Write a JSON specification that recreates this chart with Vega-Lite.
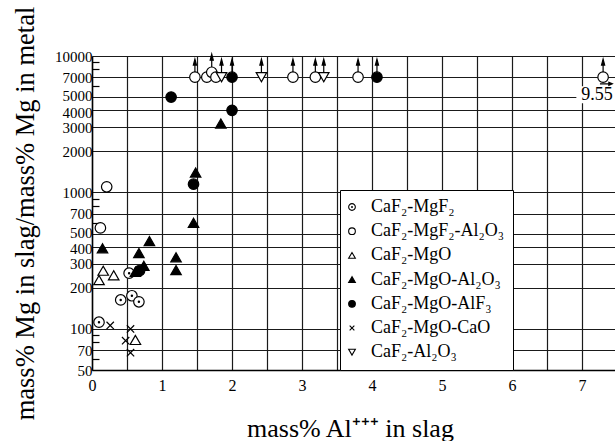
{
  "$schema": "https://vega.github.io/schema/vega-lite/v6.json",
  "width": 523,
  "height": 314,
  "autosize": {"type": "none"},
  "padding": {"left": 92, "top": 56, "right": 0, "bottom": 71},
  "background": "white",
  "config": {
    "view": {"stroke": null},
    "font": "Liberation Serif",
    "axis": {
      "labelFont": "Liberation Serif",
      "titleFont": "Liberation Serif",
      "labelColor": "black",
      "titleColor": "black",
      "titleFontWeight": "normal",
      "labelFontSize": 16,
      "gridColor": "#1a1a1a",
      "gridWidth": 1.2,
      "gridOpacity": 1,
      "domainColor": "black",
      "domainWidth": 1.5,
      "labelOverlap": false,
      "labelFlush": false
    },
    "legend": {
      "title": null,
      "orient": "none",
      "legendX": 248,
      "legendY": 134,
      "fillColor": "white",
      "strokeColor": "black",
      "padding": 8,
      "symbolOffset": -5,
      "symbolSize": 45,
      "symbolStrokeColor": "black",
      "symbolStrokeWidth": 1.1,
      "labelFontSize": 18,
      "labelFont": "Liberation Serif",
      "labelColor": "black",
      "labelOffset": 10,
      "labelLimit": 300,
      "rowPadding": 6.2
    }
  },
  "data": {
    "values": [
      {"system": "CaF₂-MgF₂", "al": 0.1, "ratio": 112},
      {"system": "CaF₂-MgF₂", "al": 0.41, "ratio": 163},
      {"system": "CaF₂-MgF₂", "al": 0.57, "ratio": 175},
      {"system": "CaF₂-MgF₂", "al": 0.67, "ratio": 158},
      {"system": "CaF₂-MgF₂", "al": 0.53, "ratio": 256},
      {"system": "CaF₂-MgF₂-Al₂O₃", "al": 0.21, "ratio": 1100},
      {"system": "CaF₂-MgF₂-Al₂O₃", "al": 0.12, "ratio": 550},
      {"system": "CaF₂-MgF₂-Al₂O₃", "al": 1.47, "ratio": 7000, "lower_bound": true},
      {"system": "CaF₂-MgF₂-Al₂O₃", "al": 1.64, "ratio": 7000},
      {"system": "CaF₂-MgF₂-Al₂O₃", "al": 1.71, "ratio": 7600, "lower_bound": true},
      {"system": "CaF₂-MgF₂-Al₂O₃", "al": 1.77, "ratio": 7000},
      {"system": "CaF₂-MgF₂-Al₂O₃", "al": 2.87, "ratio": 7000, "lower_bound": true},
      {"system": "CaF₂-MgF₂-Al₂O₃", "al": 3.19, "ratio": 7000, "lower_bound": true},
      {"system": "CaF₂-MgF₂-Al₂O₃", "al": 3.8, "ratio": 7000, "lower_bound": true},
      {"system": "CaF₂-MgF₂-Al₂O₃", "al": 7.3, "ratio": 7000, "lower_bound": true, "al_actual": 9.55},
      {"system": "CaF₂-MgO", "al": 0.16, "ratio": 267},
      {"system": "CaF₂-MgO", "al": 0.1, "ratio": 228},
      {"system": "CaF₂-MgO", "al": 0.31, "ratio": 247},
      {"system": "CaF₂-MgO", "al": 0.62, "ratio": 83},
      {"system": "CaF₂-MgO-Al₂O₃", "al": 1.84, "ratio": 3200},
      {"system": "CaF₂-MgO-Al₂O₃", "al": 1.48, "ratio": 1400},
      {"system": "CaF₂-MgO-Al₂O₃", "al": 1.45, "ratio": 600},
      {"system": "CaF₂-MgO-Al₂O₃", "al": 0.15, "ratio": 390},
      {"system": "CaF₂-MgO-Al₂O₃", "al": 0.67, "ratio": 360},
      {"system": "CaF₂-MgO-Al₂O₃", "al": 0.82, "ratio": 440},
      {"system": "CaF₂-MgO-Al₂O₃", "al": 1.2, "ratio": 335},
      {"system": "CaF₂-MgO-Al₂O₃", "al": 1.2, "ratio": 270},
      {"system": "CaF₂-MgO-Al₂O₃", "al": 0.74, "ratio": 290},
      {"system": "CaF₂-MgO-Al₂O₃", "al": 0.62, "ratio": 262},
      {"system": "CaF₂-MgO-AlF₃", "al": 2.0, "ratio": 7000, "lower_bound": true},
      {"system": "CaF₂-MgO-AlF₃", "al": 4.07, "ratio": 7000, "lower_bound": true},
      {"system": "CaF₂-MgO-AlF₃", "al": 1.13, "ratio": 5000},
      {"system": "CaF₂-MgO-AlF₃", "al": 2.0, "ratio": 4000},
      {"system": "CaF₂-MgO-AlF₃", "al": 1.45, "ratio": 1150},
      {"system": "CaF₂-MgO-AlF₃", "al": 0.68, "ratio": 268},
      {"system": "CaF₂-MgO-CaO", "al": 0.26, "ratio": 106},
      {"system": "CaF₂-MgO-CaO", "al": 0.55, "ratio": 100},
      {"system": "CaF₂-MgO-CaO", "al": 0.48, "ratio": 82},
      {"system": "CaF₂-MgO-CaO", "al": 0.55, "ratio": 67},
      {"system": "CaF₂-Al₂O₃", "al": 1.85, "ratio": 7000, "lower_bound": true},
      {"system": "CaF₂-Al₂O₃", "al": 2.42, "ratio": 7000, "lower_bound": true},
      {"system": "CaF₂-Al₂O₃", "al": 3.31, "ratio": 7000, "lower_bound": true}
    ]
  },
  "encoding": {
    "x": {
      "field": "al",
      "type": "quantitative",
      "scale": {"domain": [0, 7.47], "nice": false, "zero": false},
      "axis": {
        "values": [0, 0.5, 1, 1.5, 2, 2.5, 3, 3.5, 4, 4.5, 5, 5.5, 6, 6.5, 7],
        "labelExpr": "datum.value % 1 === 0 ? format(datum.value, 'd') : ''",
        "grid": true,
        "ticks": false,
        "labelPadding": 7,
        "title": "mass% Al⁺⁺⁺ in slag",
        "titleFontSize": 26,
        "titleX": 258,
        "titleY": 58,
        "titleAlign": "center",
        "titleBaseline": "middle"
      }
    },
    "y": {
      "field": "ratio",
      "type": "quantitative",
      "scale": {"type": "log", "domain": [50, 10000], "nice": false},
      "axis": {
        "values": [50, 60, 70, 80, 90, 100, 200, 300, 400, 500, 600, 700, 800, 900, 1000, 2000, 3000, 4000, 5000, 6000, 7000, 8000, 9000, 10000],
        "labelExpr": "indexof([60, 80, 90, 600, 800, 900, 6000, 8000, 9000], datum.value) >= 0 ? '' : format(datum.value, 'd')",
        "labelFontSize": 15,
        "labelOffset": {
          "condition": [
            {"test": "datum.value === 5000 || datum.value === 500", "value": -1.5},
            {"test": "datum.value === 4000 || datum.value === 400", "value": 2}
          ],
          "value": 0
        },
        "grid": true,
        "gridOpacity": {"condition": {"test": "indexof([60, 80, 90, 600, 800, 900, 6000, 8000, 9000], datum.value) >= 0", "value": 0}, "value": 1},
        "ticks": true,
        "tickSize": -7,
        "tickColor": "black",
        "tickWidth": 1.2,
        "tickOpacity": {"condition": {"test": "indexof([60, 80, 90, 600, 800, 900, 6000, 8000, 9000], datum.value) >= 0", "value": 1}, "value": 0},
        "labelPadding": 7,
        "title": "mass% Mg in slag/mass% Mg in metal",
        "titleFontSize": 26.5,
        "titleX": -67,
        "titleY": 157,
        "titleAngle": -90,
        "titleAlign": "center",
        "titleBaseline": "middle"
      }
    }
  },
  "layer": [
    {
      "mark": {"type": "point", "size": 110, "filled": true, "opacity": 1, "strokeWidth": 1.2},
      "encoding": {
        "shape": {
          "field": "system",
          "type": "nominal",
          "scale": {
            "domain": ["CaF₂-MgF₂", "CaF₂-MgF₂-Al₂O₃", "CaF₂-MgO", "CaF₂-MgO-Al₂O₃", "CaF₂-MgO-AlF₃", "CaF₂-MgO-CaO", "CaF₂-Al₂O₃"],
            "range": [
              "M-1,0A1,1,0,1,0,1,0A1,1,0,1,0,-1,0Z M-0.12,0A0.12,0.12,0,1,0,0.12,0A0.12,0.12,0,1,0,-0.12,0Z",
              "circle",
              "triangle-up",
              "triangle-up",
              "circle",
              "M-0.7,-0.7L0.7,0.7M-0.7,0.7L0.7,-0.7",
              "triangle-down"
            ]
          },
          "legend": {"title": null}
        },
        "fill": {
          "field": "system",
          "type": "nominal",
          "scale": {
            "domain": ["CaF₂-MgF₂", "CaF₂-MgF₂-Al₂O₃", "CaF₂-MgO", "CaF₂-MgO-Al₂O₃", "CaF₂-MgO-AlF₃", "CaF₂-MgO-CaO", "CaF₂-Al₂O₃"],
            "range": ["white", "white", "white", "black", "black", "white", "white"]
          },
          "legend": {"title": null}
        },
        "stroke": {
          "field": "system",
          "type": "nominal",
          "scale": {
            "domain": ["CaF₂-MgF₂", "CaF₂-MgF₂-Al₂O₃", "CaF₂-MgO", "CaF₂-MgO-Al₂O₃", "CaF₂-MgO-AlF₃", "CaF₂-MgO-CaO", "CaF₂-Al₂O₃"],
            "range": ["black", "black", "black", "black", "black", "black", "black"]
          },
          "legend": {"title": null}
        }
      }
    },
    {
      "transform": [{"filter": "datum.lower_bound === true"}],
      "mark": {"type": "point", "size": 110, "filled": true, "opacity": 1, "fill": "black", "stroke": "black", "strokeWidth": 1.2, "shape": "M0,-1L0,-2.4M-0.3,-2.3L0,-3.45L0.3,-2.3Z"}
    },
    {
      "transform": [{"filter": "isValid(datum.al_actual)"}],
      "mark": {"type": "point", "size": 110, "filled": true, "opacity": 1, "fill": "white", "strokeWidth": 0, "shape": "M-5.1,1.75L3,1.75L3,5L-5.1,5Z"}
    },
    {
      "transform": [{"filter": "isValid(datum.al_actual)"}],
      "mark": {"type": "point", "size": 110, "filled": true, "opacity": 1, "fill": "black", "stroke": "black", "strokeWidth": 1.2, "shape": "M-0.6,1.28L1.2,1.28M1.1,1.0L1.75,1.28L1.1,1.56Z"}
    },
    {
      "transform": [{"filter": "isValid(datum.al_actual)"}],
      "mark": {"type": "text", "dx": -6, "dy": 23, "baseline": "alphabetic", "align": "center", "fontSize": 18, "font": "Liberation Serif", "color": "black"},
      "encoding": {"text": {"field": "al_actual", "type": "quantitative", "format": ".2f"}}
    }
  ]
}
